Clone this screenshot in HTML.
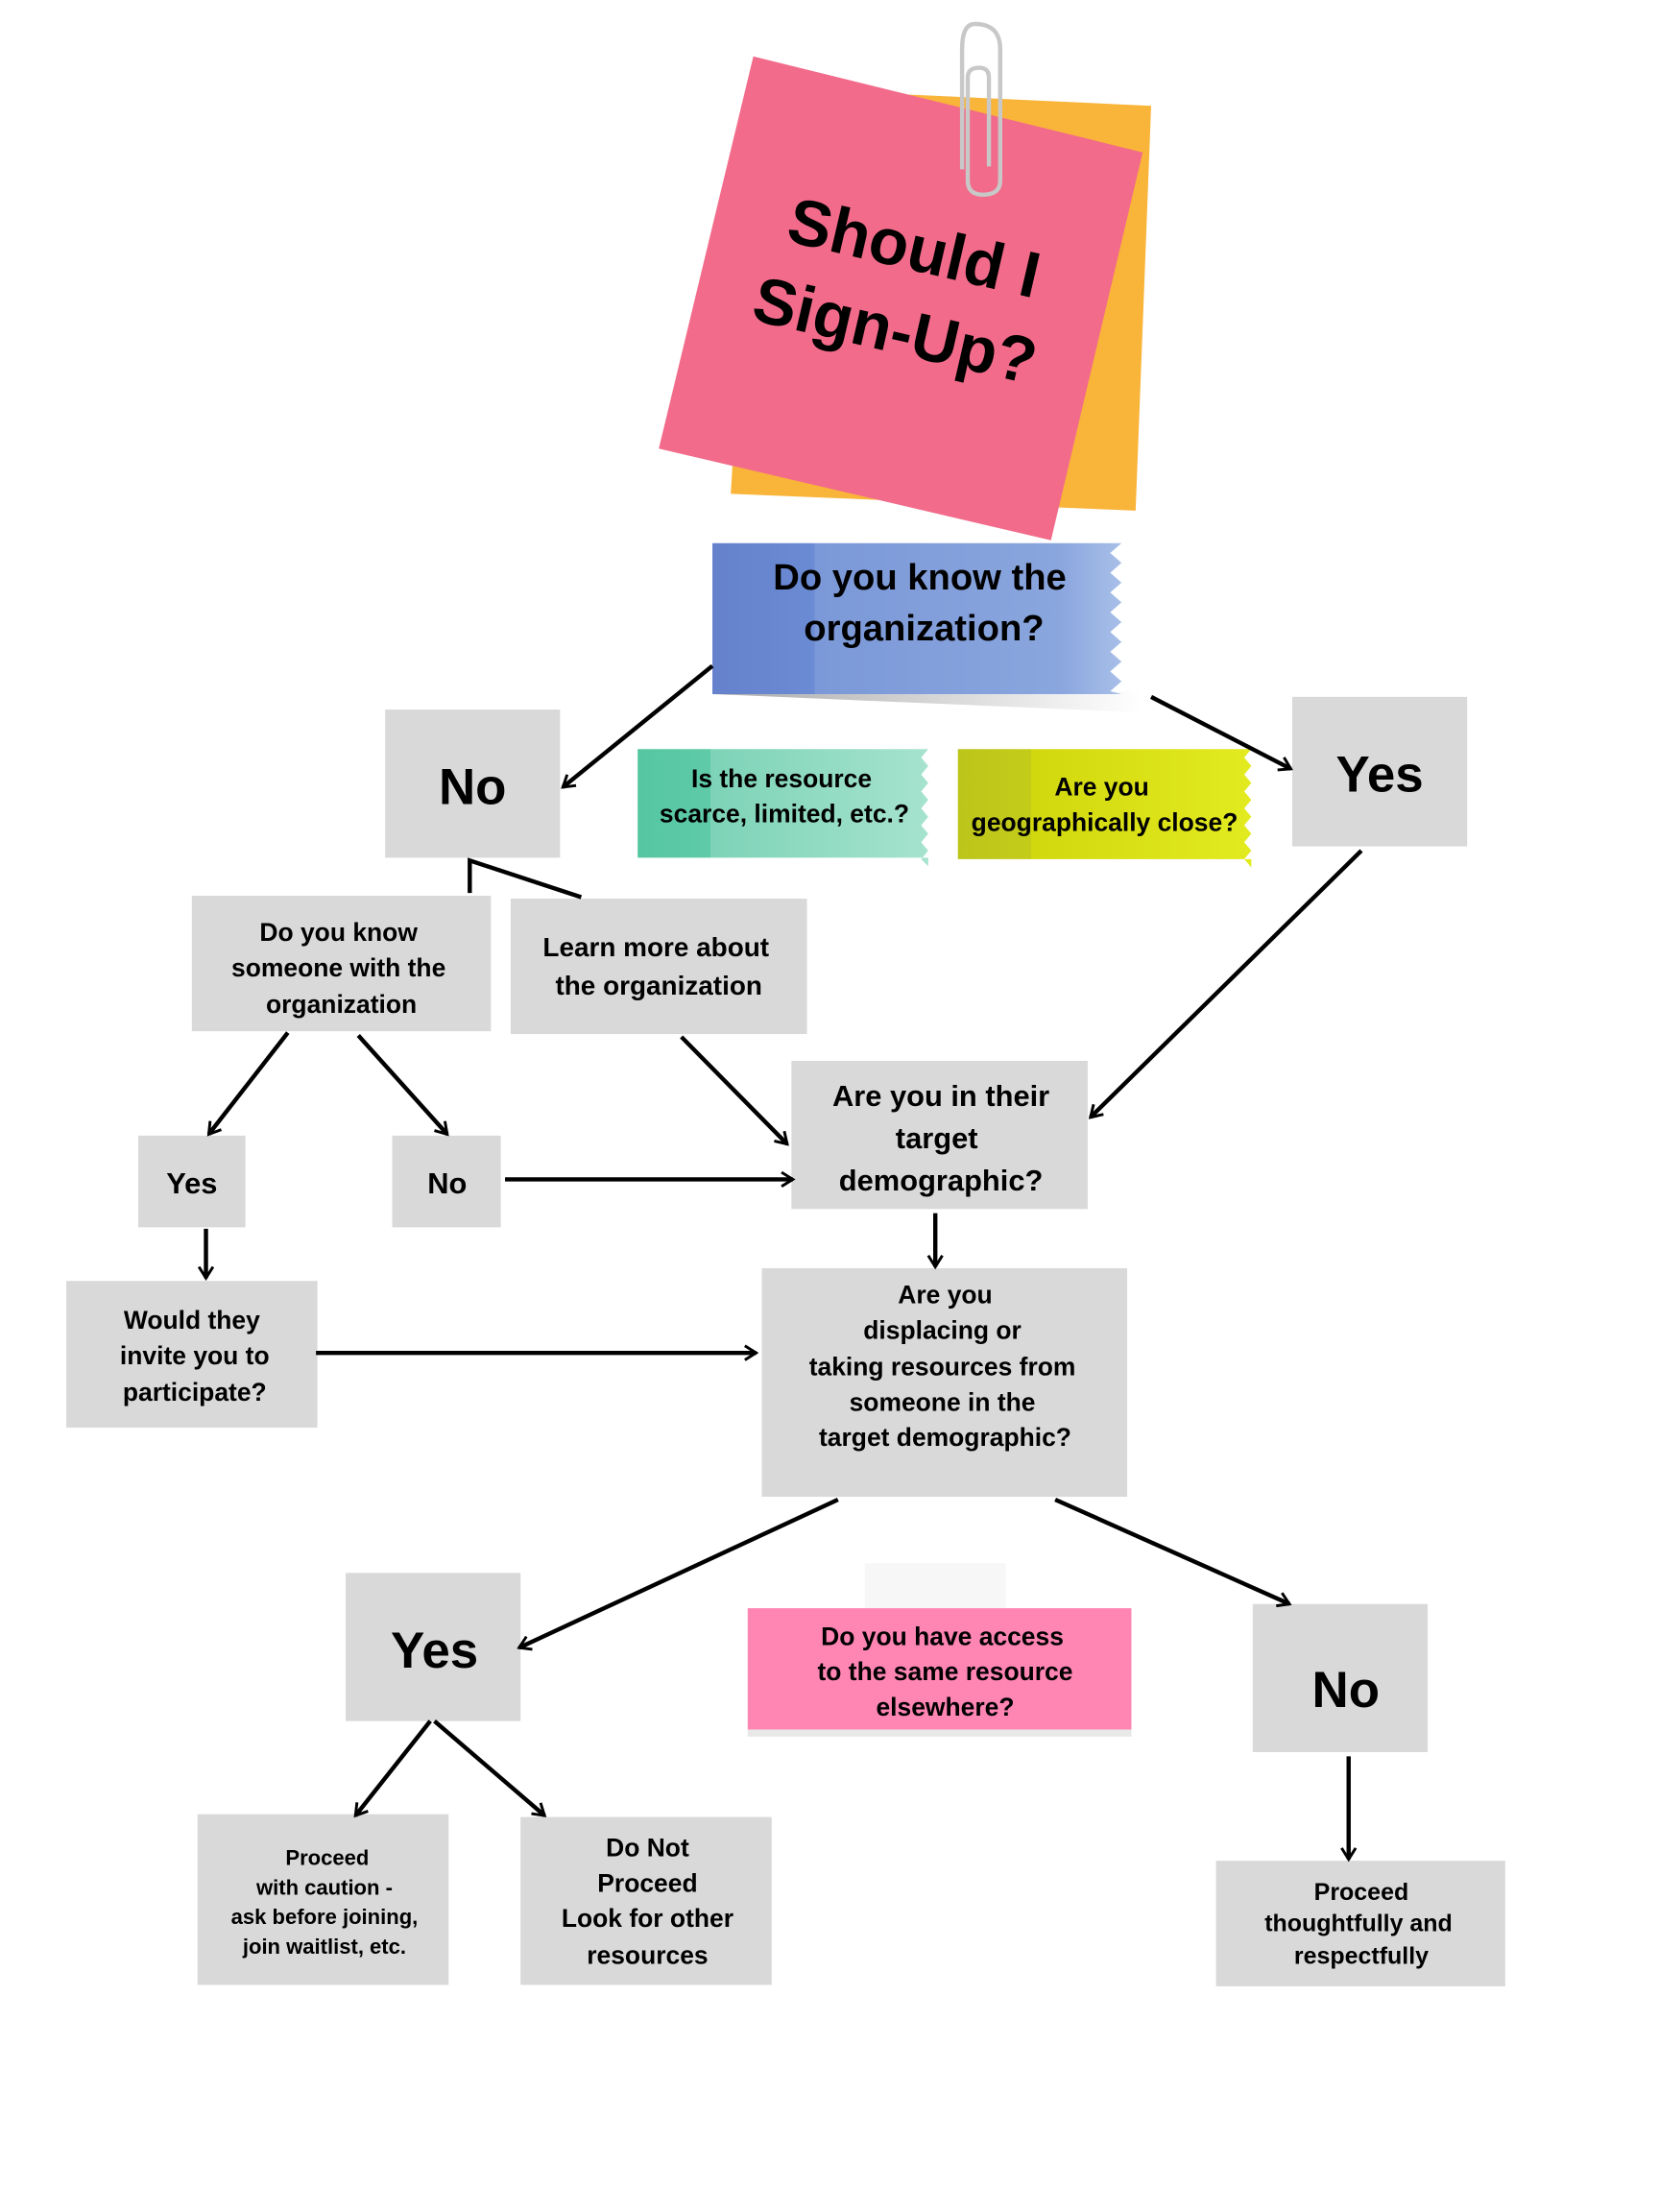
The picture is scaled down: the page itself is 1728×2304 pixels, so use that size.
<!DOCTYPE html>
<html><head><meta charset="utf-8"><style>
html,body{margin:0;padding:0;background:#fff}
svg{display:block}
text{font-family:"Liberation Sans",sans-serif;font-weight:bold;fill:#000;text-anchor:middle}
</style></head><body>
<svg width="1728" height="2304" viewBox="0 0 1176 1568" xmlns="http://www.w3.org/2000/svg">
<defs>
<marker id="a" viewBox="0 0 12 12" refX="10" refY="6" markerWidth="4" markerHeight="4" orient="auto" markerUnits="strokeWidth">
<polyline points="2,1 10,6 2,11" fill="none" stroke="#000" stroke-width="2"/>
</marker>
<linearGradient id="gb" x1="0" x2="1"><stop offset="0" stop-color="#6581cc"/><stop offset="0.25" stop-color="#6b8bd4"/><stop offset="0.25" stop-color="#7b98d8"/><stop offset="0.85" stop-color="#8aa6de"/><stop offset="1" stop-color="#a8bfe8"/></linearGradient>
<linearGradient id="gg" x1="0" x2="1"><stop offset="0" stop-color="#55c6a2"/><stop offset="0.25" stop-color="#5fcaa8"/><stop offset="0.25" stop-color="#7dd3b7"/><stop offset="1" stop-color="#a6e3cf"/></linearGradient>
<linearGradient id="gy" x1="0" x2="1"><stop offset="0" stop-color="#bcc51a"/><stop offset="0.25" stop-color="#c4cc1a"/><stop offset="0.25" stop-color="#d2d80e"/><stop offset="1" stop-color="#e2ea20"/></linearGradient>
<linearGradient id="gs" x1="0" x2="1"><stop offset="0" stop-color="#aaa"/><stop offset="1" stop-color="#fff"/></linearGradient>
</defs>

<polygon points="535,62 816,75 805,362 518,350" fill="#f9b43a"/>
<polygon points="534,40 810,108 745,383 467,318" fill="#f26b8a"/>
<g transform="rotate(13 638 210)">
<text x="640" y="190" font-size="46">Should I</text>
<text x="640" y="250" font-size="46">Sign-Up?</text>
</g>
<path d="M682,120 L682,35 Q682,17 691,17 Q709,17 709,35 L709,128 Q709,138 697,138 Q686,138 686,128 L686,55 Q686,48 694,48 Q701,48 701,55 L701,118" fill="none" stroke="#c8c8c8" stroke-width="3"/>

<polygon points="505,492 810,505 810,490 505,490" fill="url(#gs)"/>
<path d="M505,385 L795,385 l-8,7 8,7 -8,7 8,7 -8,7 8,7 -8,7 8,7 -8,7 8,7 -8,7 8,7 -8,7 8,7 -8,7 L795,492 L505,492 Z" fill="url(#gb)"/>
<text x="652" y="418" font-size="26">Do you know the</text>
<text x="655" y="454" font-size="26">organization?</text>

<path d="M452,531 L658,531 l-5,6 5,6 -5,6 5,6 -5,6 5,6 -5,6 5,6 -5,6 5,6 -5,6 5,6 -5,6 5,5 L658,608 L452,608 Z" fill="url(#gg)"/>
<text x="554" y="558" font-size="18" style="font-weight:600">Is the resource</text>
<text x="556" y="583" font-size="18" style="font-weight:600">scarce, limited, etc.?</text>
<path d="M679,531 L887,531 l-5,6 5,6 -5,6 5,6 -5,6 5,6 -5,6 5,6 -5,6 5,6 -5,6 5,6 -5,6 5,6 L887,609 L679,609 Z" fill="url(#gy)"/>
<text x="781" y="564" font-size="18" style="font-weight:600">Are you</text>
<text x="783" y="589" font-size="18" style="font-weight:600">geographically close?</text>

<g fill="#d9d9d9">
<rect x="273" y="503" width="124" height="105"/>
<rect x="916" y="494" width="124" height="106"/>
<rect x="136" y="635" width="212" height="96"/>
<rect x="362" y="637" width="210" height="96"/>
<rect x="561" y="752" width="210" height="105"/>
<rect x="98" y="805" width="76" height="65"/>
<rect x="278" y="805" width="77" height="65"/>
<rect x="47" y="908" width="178" height="104"/>
<rect x="540" y="899" width="259" height="162"/>
<rect x="245" y="1115" width="124" height="105"/>
<rect x="888" y="1137" width="124" height="105"/>
<rect x="140" y="1286" width="178" height="121"/>
<rect x="369" y="1288" width="178" height="119"/>
<rect x="862" y="1319" width="205" height="89"/>
</g>
<text x="335" y="570" font-size="36">No</text>
<text x="978" y="561" font-size="36">Yes</text>
<text x="240" y="667" font-size="18">Do you know</text>
<text x="240" y="692" font-size="18">someone with the</text>
<text x="242" y="718" font-size="18">organization</text>
<text x="465" y="678" font-size="19" style="font-weight:600">Learn more about</text>
<text x="467" y="705" font-size="19" style="font-weight:600">the organization</text>
<text x="667" y="784" font-size="21" style="font-weight:600">Are you in their</text>
<text x="664" y="814" font-size="21" style="font-weight:600">target</text>
<text x="667" y="844" font-size="21" style="font-weight:600">demographic?</text>
<text x="136" y="846" font-size="21">Yes</text>
<text x="317" y="846" font-size="21">No</text>
<text x="136" y="942" font-size="18">Would they</text>
<text x="138" y="967" font-size="18">invite you to</text>
<text x="138" y="993" font-size="18">participate?</text>
<g font-size="18" style="font-weight:600">
<text x="670" y="924">Are you</text>
<text x="668" y="949">displacing or</text>
<text x="668" y="975">taking resources from</text>
<text x="668" y="1000">someone in the</text>
<text x="670" y="1025">target demographic?</text>
</g>
<text x="308" y="1182" font-size="36">Yes</text>
<text x="954" y="1210" font-size="36">No</text>
<g font-size="15">
<text x="232" y="1322">Proceed</text>
<text x="230" y="1343">with caution -</text>
<text x="230" y="1364">ask before joining,</text>
<text x="230" y="1385">join waitlist, etc.</text>
</g>
<g font-size="18">
<text x="459" y="1316">Do Not</text>
<text x="459" y="1341">Proceed</text>
<text x="459" y="1366">Look for other</text>
<text x="459" y="1392">resources</text>
</g>
<g font-size="17">
<text x="965" y="1347">Proceed</text>
<text x="963" y="1369">thoughtfully and</text>
<text x="965" y="1392">respectfully</text>
</g>

<rect x="613" y="1108" width="100" height="32" fill="#f3f3f3" opacity="0.7"/>
<rect x="530" y="1226" width="272" height="5" fill="#e8e8e8"/>
<rect x="530" y="1140" width="272" height="86" fill="#ff85b3"/>
<g font-size="18" style="font-weight:600">
<text x="668" y="1166">Do you have access</text>
<text x="670" y="1191">to the same resource</text>
<text x="670" y="1216">elsewhere?</text>
</g>

<g stroke="#000" stroke-width="3" fill="none">
<line x1="505" y1="472" x2="399" y2="558" marker-end="url(#a)"/>
<line x1="816" y1="494" x2="915" y2="545" marker-end="url(#a)"/>
<polyline points="333,633 333,610 412,636"/>
<line x1="204" y1="732" x2="148" y2="804" marker-end="url(#a)"/>
<line x1="254" y1="734" x2="317" y2="804" marker-end="url(#a)"/>
<line x1="483" y1="735" x2="558" y2="811" marker-end="url(#a)"/>
<line x1="965" y1="603" x2="773" y2="792" marker-end="url(#a)"/>
<line x1="358" y1="836" x2="562" y2="836" marker-end="url(#a)"/>
<line x1="663" y1="860" x2="663" y2="898" marker-end="url(#a)"/>
<line x1="146" y1="871" x2="146" y2="906" marker-end="url(#a)"/>
<line x1="224" y1="959" x2="536" y2="959" marker-end="url(#a)"/>
<line x1="594" y1="1063" x2="368" y2="1168" marker-end="url(#a)"/>
<line x1="748" y1="1063" x2="914" y2="1137" marker-end="url(#a)"/>
<line x1="305" y1="1220" x2="252" y2="1287" marker-end="url(#a)"/>
<line x1="308" y1="1220" x2="386" y2="1287" marker-end="url(#a)"/>
<line x1="956" y1="1245" x2="956" y2="1318" marker-end="url(#a)"/>
</g>
</svg>
</body></html>
